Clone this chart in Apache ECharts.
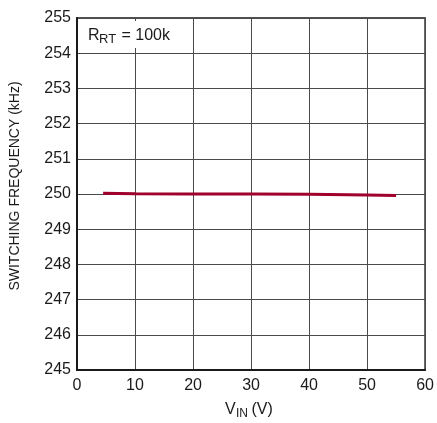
<!DOCTYPE html>
<html>
<head>
<meta charset="utf-8">
<script src="https://cdn.jsdelivr.net/npm/echarts@6/dist/echarts.min.js"></script>
<style>
  html, body { margin: 0; padding: 0; background: #fff; }
  #chart { width: 437px; height: 423px; }
</style>
</head>
<body>
<div id="chart"></div>
<script>
// Input voltage (V) and measured switching frequency (kHz), RT = 100k
const vin = [4.5, 10, 20, 30, 40, 50, 55];
const freq = [250.02, 250.01, 250.0, 250.0, 249.99, 249.97, 249.96];

const xTicks = [0, 10, 20, 30, 40, 50, 60];
const yTicks = [245, 246, 247, 248, 249, 250, 251, 252, 253, 254, 255];

const FONT = '"Liberation Sans", Arial, sans-serif';
const GRID = { left: 77, right: 8, top: 18, bottom: 53 };
const INK = '#1a1a1a';

const chart = echarts.init(document.getElementById('chart'), null, { renderer: 'canvas' });

chart.setOption({
  animation: false,
  backgroundColor: '#ffffff',
  grid: {
    left: GRID.left, right: GRID.right, top: GRID.top, bottom: GRID.bottom,
    show: true, borderColor: INK, borderWidth: 1.5, backgroundColor: 'transparent'
  },
  xAxis: {
    type: 'value',
    min: xTicks[0], max: xTicks[xTicks.length - 1], interval: 10,
    axisLine: { show: true, lineStyle: { color: INK, width: 2 } },
    axisTick: { show: false },
    axisLabel: { color: INK, fontFamily: FONT, fontSize: 16, margin: 8 },
    splitLine: { show: true, lineStyle: { color: '#4a4a4a', width: 1 } }
  },
  yAxis: {
    type: 'value',
    min: yTicks[0], max: yTicks[yTicks.length - 1], interval: 1,
    axisLine: { show: true, lineStyle: { color: INK, width: 2 } },
    axisTick: { show: false },
    axisLabel: { color: INK, fontFamily: FONT, fontSize: 16, margin: 6 },
    splitLine: { show: true, lineStyle: { color: '#4a4a4a', width: 1 } },
    name: 'SWITCHING FREQUENCY (kHz)',
    nameLocation: 'middle',
    nameGap: 55,
    nameRotate: 90,
    nameTextStyle: { color: INK, fontFamily: FONT, fontSize: 14, padding: [0, 0, 0, 16] }
  },
  series: [{
    type: 'line',
    data: vin.map((v, i) => [v, freq[i]]),
    showSymbol: false,
    lineStyle: { color: '#a0002c', width: 3 },
    z: 5
  }],
  graphic: [
    // annotation: white backing box with the RT value on top
    {
      type: 'group', left: 80, top: 21, z: 20,
      children: [
        { type: 'rect', shape: { x: 0, y: 0, width: 96, height: 27 }, style: { fill: '#ffffff' }, z: 20 },
        { type: 'text', x: 8, y: 7, z: 21, style: { text: 'R', font: '16px ' + FONT, fill: INK } },
        { type: 'text', x: 19, y: 12, z: 21, style: { text: 'RT', font: '13px ' + FONT, fill: INK } },
        { type: 'text', x: 37, y: 7, z: 21, style: { text: ' = 100k', font: '16px ' + FONT, fill: INK } }
      ]
    },
    // x axis title
    {
      type: 'group', left: 225, top: 402, z: 20,
      children: [
        { type: 'text', x: 0, y: 0, z: 21, style: { text: 'V', font: '16px ' + FONT, fill: INK } },
        { type: 'text', x: 11, y: 6, z: 21, style: { text: 'IN', font: '12px ' + FONT, fill: INK } },
        { type: 'text', x: 22, y: 0, z: 21, style: { text: ' (V)', font: '16px ' + FONT, fill: INK } }
      ]
    }
  ]
});
</script>
</body>
</html>
